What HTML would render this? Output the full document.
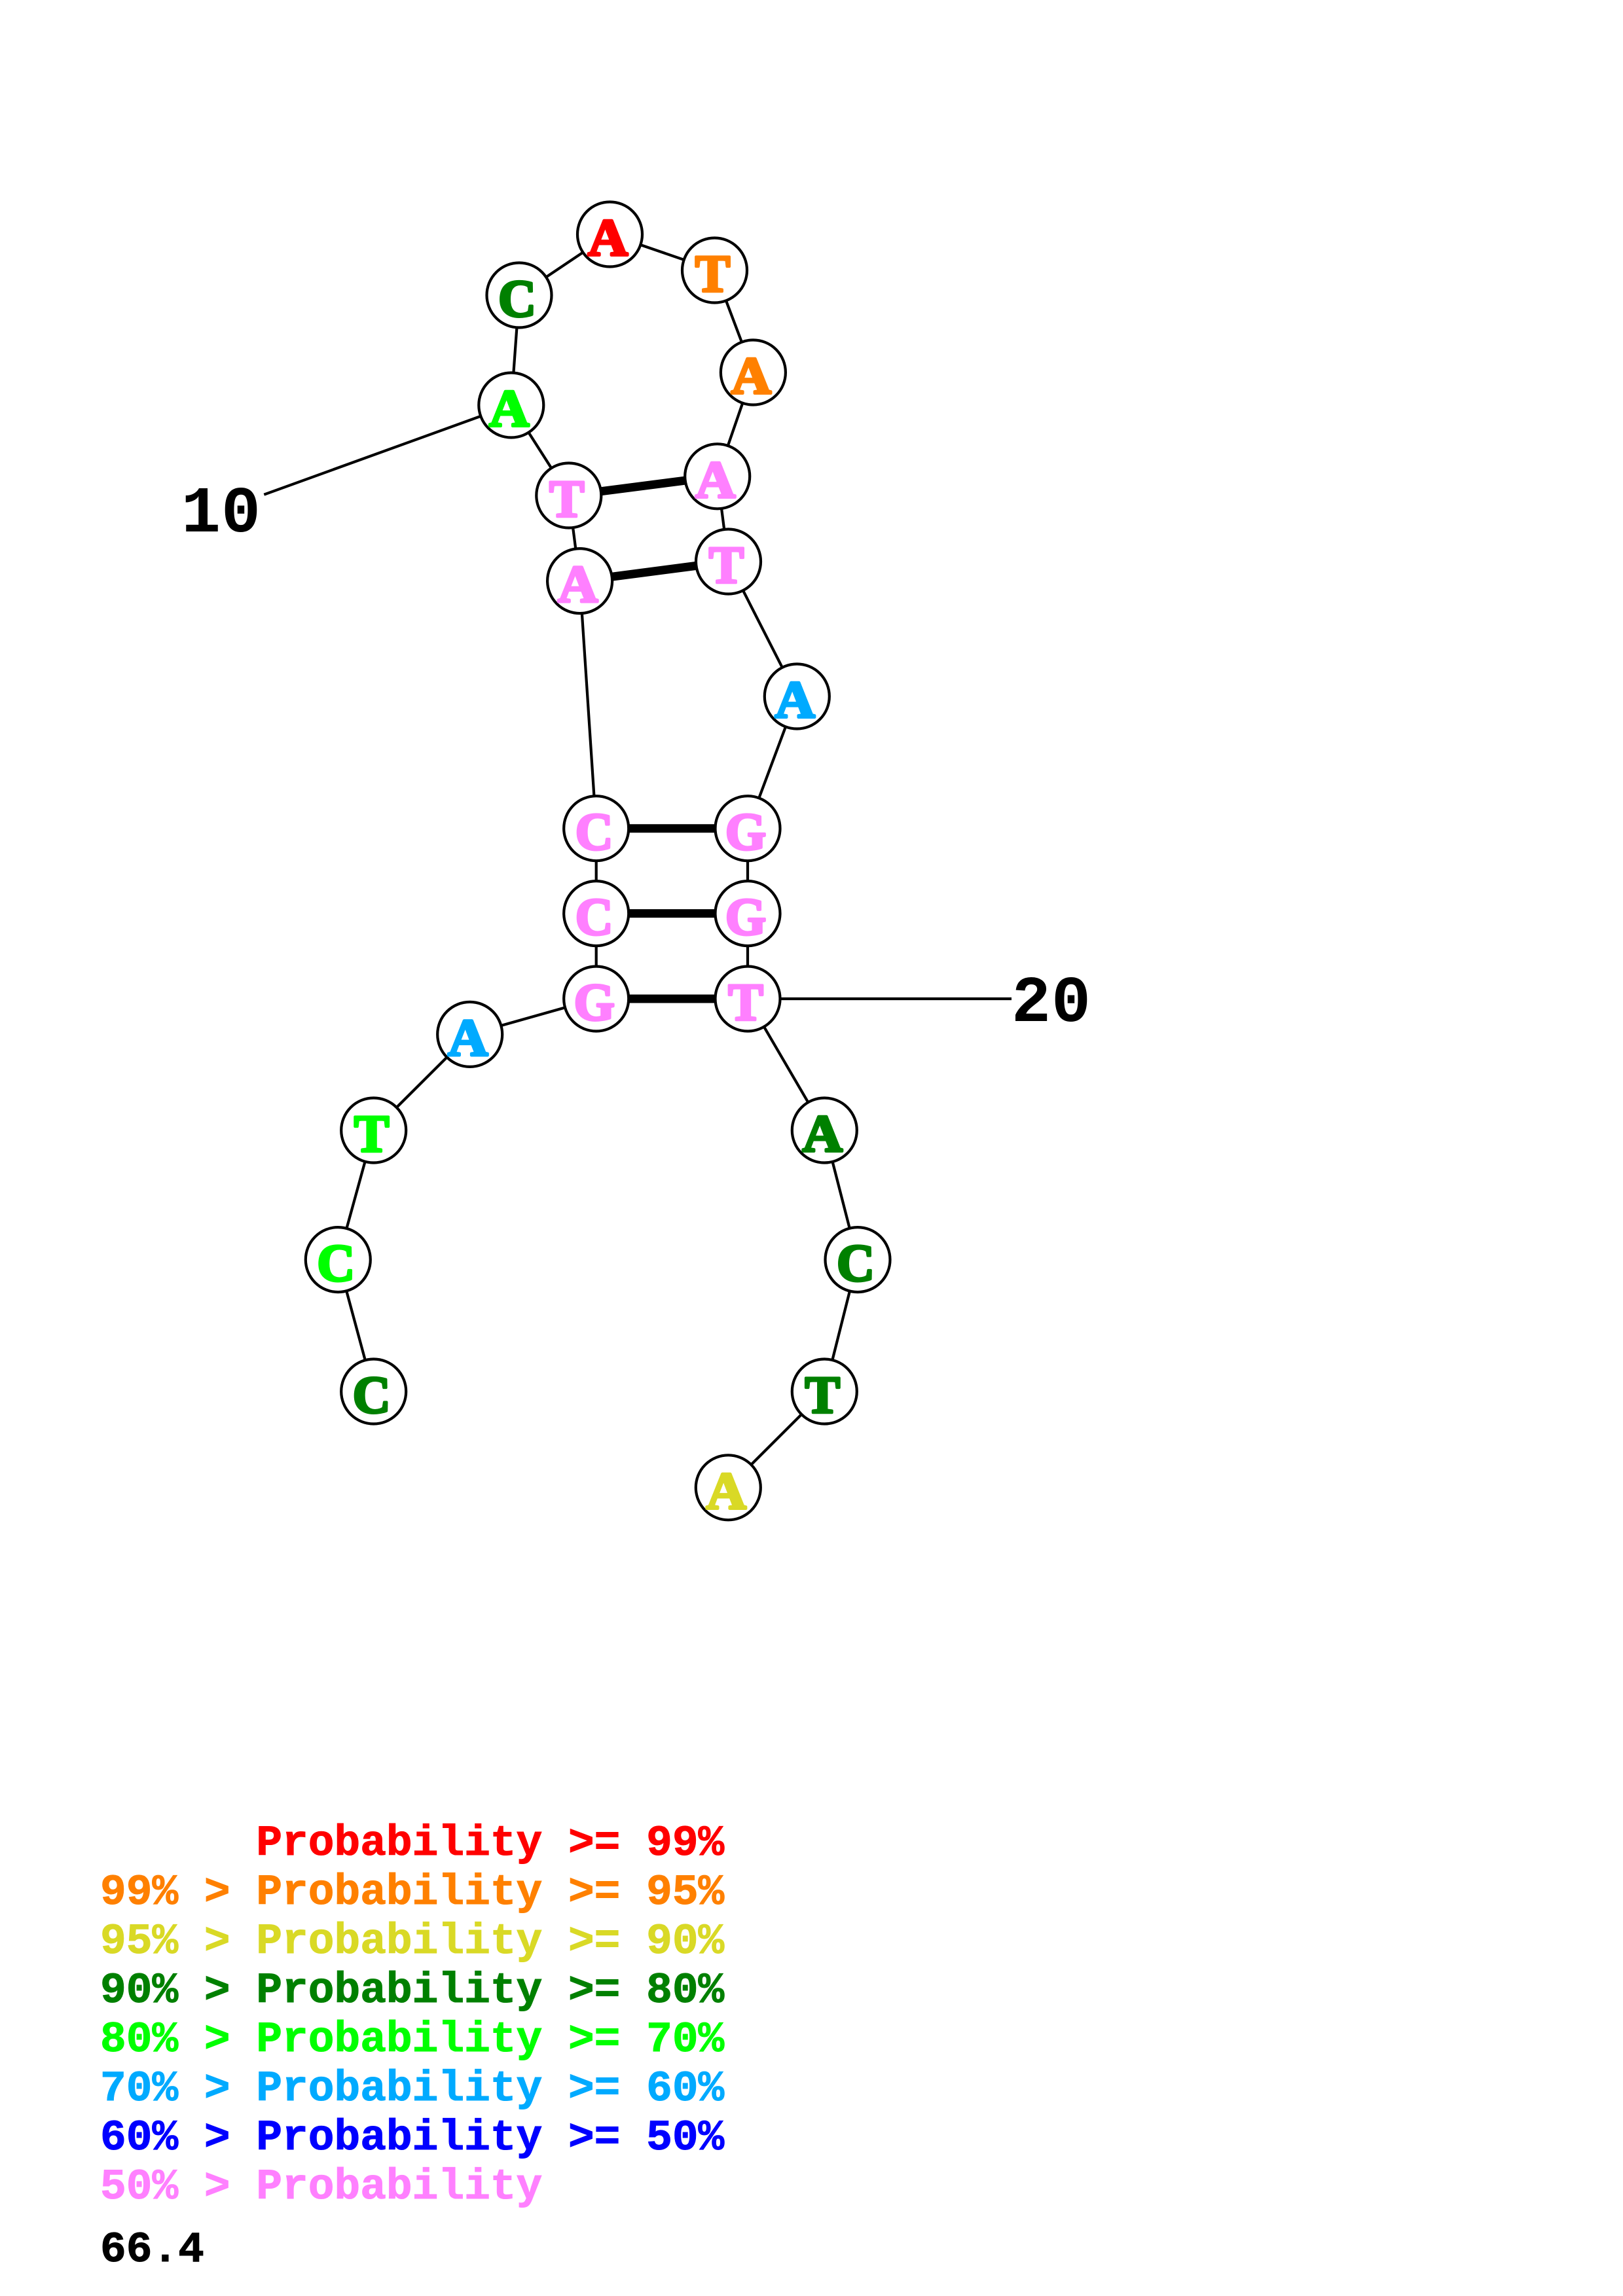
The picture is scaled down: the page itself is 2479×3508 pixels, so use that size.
<!DOCTYPE html>
<html><head><meta charset="utf-8"><style>
html,body{margin:0;padding:0;background:#fff}
svg{display:block}
text{font-family:"Liberation Mono",monospace;font-weight:bold}
.n text{font-family:"Liberation Serif",serif;font-size:80px;text-anchor:middle;stroke-width:4px;stroke-linejoin:round}
.l{font-size:66.2px;white-space:pre}
.l text{stroke-width:1px}
</style></head><body>
<svg width="2479" height="3508" viewBox="0 0 2479 3508" xmlns="http://www.w3.org/2000/svg">
<rect width="2479" height="3508" fill="#fff"/>
<g stroke="#000" stroke-width="4.2" fill="none">
<polyline points="570.7,2126 516.3,1924.6 570.7,1727 717.7,1580.4 910.7,1526 910.7,1395.6 910.7,1265.7 885.6,887.6 868.8,757 780.8,619 793,451 931.5,358 1091.5,413 1150.4,569 1095.7,727.8 1112.5,858 1217.3,1064 1142,1265.7 1142,1395.6 1142,1526 1259.3,1727 1310,1924.6 1259.3,2126 1112.3,2272.8"/>
<line x1="403.3" y1="755.7" x2="780.8" y2="619"/>
<line x1="1142" y1="1526" x2="1545" y2="1526"/>
</g>
<g stroke="#000" stroke-width="13">
<line x1="868.8" y1="757" x2="1095.7" y2="727.8"/>
<line x1="885.6" y1="887.6" x2="1112.5" y2="858"/>
<line x1="910.7" y1="1265.7" x2="1142" y2="1265.7"/>
<line x1="910.7" y1="1395.6" x2="1142" y2="1395.6"/>
<line x1="910.7" y1="1526" x2="1142" y2="1526"/>
</g>
<g fill="#fff" stroke="#000" stroke-width="4.2">
<circle cx="931.5" cy="358" r="49.5"/><circle cx="1091.5" cy="413" r="49.5"/><circle cx="793" cy="451" r="49.5"/>
<circle cx="1150.4" cy="569" r="49.5"/><circle cx="780.8" cy="619" r="49.5"/><circle cx="1095.7" cy="727.8" r="49.5"/>
<circle cx="868.8" cy="757" r="49.5"/><circle cx="1112.5" cy="858" r="49.5"/><circle cx="885.6" cy="887.6" r="49.5"/>
<circle cx="1217.3" cy="1064" r="49.5"/><circle cx="910.7" cy="1265.7" r="49.5"/><circle cx="1142" cy="1265.7" r="49.5"/>
<circle cx="910.7" cy="1395.6" r="49.5"/><circle cx="1142" cy="1395.6" r="49.5"/><circle cx="910.7" cy="1526" r="49.5"/>
<circle cx="1142" cy="1526" r="49.5"/><circle cx="717.7" cy="1580.4" r="49.5"/><circle cx="570.7" cy="1727" r="49.5"/>
<circle cx="1259.3" cy="1727" r="49.5"/><circle cx="516.3" cy="1924.6" r="49.5"/><circle cx="1310" cy="1924.6" r="49.5"/>
<circle cx="570.7" cy="2126" r="49.5"/><circle cx="1259.3" cy="2126" r="49.5"/><circle cx="1112.3" cy="2272.8" r="49.5"/>
</g>
<g class="n" transform="translate(0 -2)">
<text transform="translate(928.5 392) scale(1.06 1)" fill="#ff0000" stroke="#ff0000">A</text>
<text x="1088.5" y="447" fill="#ff8000" stroke="#ff8000">T</text>
<text x="790" y="485" fill="#008000" stroke="#008000">C</text>
<text transform="translate(1147.4 603) scale(1.06 1)" fill="#ff8000" stroke="#ff8000">A</text>
<text transform="translate(777.8 653) scale(1.06 1)" fill="#00ff00" stroke="#00ff00">A</text>
<text transform="translate(1092.7 762) scale(1.06 1)" fill="#ff80ff" stroke="#ff80ff">A</text>
<text x="865.8" y="791" fill="#ff80ff" stroke="#ff80ff">T</text>
<text x="1109.5" y="892" fill="#ff80ff" stroke="#ff80ff">T</text>
<text transform="translate(882.6 921.6) scale(1.06 1)" fill="#ff80ff" stroke="#ff80ff">A</text>
<text transform="translate(1214.3 1098) scale(1.06 1)" fill="#00aaff" stroke="#00aaff">A</text>
<text x="907.7" y="1299.7" fill="#ff80ff" stroke="#ff80ff">C</text>
<text x="1139" y="1299.7" fill="#ff80ff" stroke="#ff80ff">G</text>
<text x="907.7" y="1429.6" fill="#ff80ff" stroke="#ff80ff">C</text>
<text x="1139" y="1429.6" fill="#ff80ff" stroke="#ff80ff">G</text>
<text x="907.7" y="1560" fill="#ff80ff" stroke="#ff80ff">G</text>
<text x="1139" y="1560" fill="#ff80ff" stroke="#ff80ff">T</text>
<text transform="translate(714.7 1614.4) scale(1.06 1)" fill="#00aaff" stroke="#00aaff">A</text>
<text x="567.7" y="1761" fill="#00ff00" stroke="#00ff00">T</text>
<text transform="translate(1256.3 1761) scale(1.06 1)" fill="#008000" stroke="#008000">A</text>
<text x="513.3" y="1958.6" fill="#00ff00" stroke="#00ff00">C</text>
<text x="1307" y="1958.6" fill="#008000" stroke="#008000">C</text>
<text x="567.7" y="2160" fill="#008000" stroke="#008000">C</text>
<text x="1256.3" y="2160" fill="#008000" stroke="#008000">T</text>
<text transform="translate(1109.3 2306.8) scale(1.06 1)" fill="#d9d926" stroke="#d9d926">A</text>
</g>
<text x="277" y="812" style="font-size:100px" letter-spacing="1" fill="#000">10</text>
<text x="1545" y="1560" style="font-size:100px" letter-spacing="1" fill="#000">20</text>
<g class="l">
<text x="153" y="2834" fill="#ff0000" stroke="#ff0000" xml:space="preserve">      Probability &gt;= 99%</text>
<text x="153" y="2909" fill="#ff8000" stroke="#ff8000" xml:space="preserve">99% &gt; Probability &gt;= 95%</text>
<text x="153" y="2984" fill="#d9d926" stroke="#d9d926" xml:space="preserve">95% &gt; Probability &gt;= 90%</text>
<text x="153" y="3059" fill="#008000" stroke="#008000" xml:space="preserve">90% &gt; Probability &gt;= 80%</text>
<text x="153" y="3134" fill="#00ff00" stroke="#00ff00" xml:space="preserve">80% &gt; Probability &gt;= 70%</text>
<text x="153" y="3209" fill="#00aaff" stroke="#00aaff" xml:space="preserve">70% &gt; Probability &gt;= 60%</text>
<text x="153" y="3284" fill="#0000ff" stroke="#0000ff" xml:space="preserve">60% &gt; Probability &gt;= 50%</text>
<text x="153" y="3359" fill="#ff80ff" stroke="#ff80ff" xml:space="preserve">50% &gt; Probability</text>
<text x="153" y="3455" fill="#000" stroke="#000">66.4</text>
</g>
</svg>
</body></html>
